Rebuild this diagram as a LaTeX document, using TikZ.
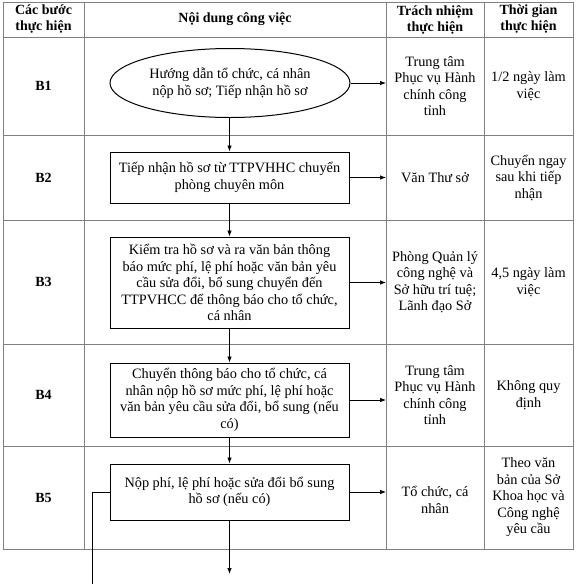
\documentclass[tikz,border=0pt]{standalone}
\usepackage{fontspec}
\setmainfont{Liberation Serif}
\usetikzlibrary{arrows.meta,shapes.geometric}
\tikzstyle{grid}=[
	draw=black!50,
	line width=0.8pt
]
\tikzstyle{head}=[
	align=center,
	font=\fontsize{14}{16}\selectfont\bfseries
]
\tikzstyle{stepname}=[
	font=\fontsize{14}{16}\selectfont\bfseries
]
\tikzstyle{cell}=[
	align=center,
	inner sep=1pt
]
\tikzstyle{start}=[
	ellipse,
	draw,
	line width=1pt,
	minimum width=240pt,
	minimum height=69pt,
	inner sep=0pt,
	align=center
]
\tikzstyle{task}=[
	rectangle,
	draw,
	line width=1pt,
	minimum width=239pt,
	inner sep=1pt,
	align=center
]
\tikzstyle{flow}=[
	-{Latex[length=6pt,width=4.5pt]},
	line width=0.7pt
]

\begin{document}
\begin{tikzpicture}[x=1pt,y=-1pt,font=\fontsize{14.3}{16.5}\selectfont]
\useasboundingbox (0,0) rectangle (576,584);
% table
\draw[grid] (3,2) rectangle (573,549);
\foreach \y in {37,135,220,344,446}
	\draw[grid] (3,\y) -- (573,\y);
\foreach \x in {84,386,484}
	\draw[grid] (\x,2) -- (\x,549);
\coordinate (resp) at (386,0);
% header
\node[head] (hStep) at (43.5,19.5) {Các bước\\thực hiện};
\node[head] (hWork) at (235,19.5) {Nội dung công việc};
\node[head] (hResp) at (435,19.5) {Trách nhiệm\\thực hiện};
\node[head] (hTime) at (528.5,19.5) {Thời gian\\thực hiện};
% steps
\node[stepname] (s1) at (43.5,86) {B1};
\node[stepname] (s2) at (43.5,177.5) {B2};
\node[stepname] (s3) at (43.5,282) {B3};
\node[stepname] (s4) at (43.5,395) {B4};
\node[stepname] (s5) at (43.5,497.5) {B5};
% flow
\node[start] (B1) at (230,83) {Hướng dẫn tổ chức, cá nhân\\nộp hồ sơ; Tiếp nhận hồ sơ};
\node[task, minimum height=51pt] (B2) at (229.5,177.5) {Tiếp nhận hồ sơ từ TTPVHHC chuyển\\phòng chuyên môn};
\node[task, minimum height=91pt] (B3) at (229.5,282.5) {Kiểm tra hồ sơ và ra văn bản thông\\báo mức phí, lệ phí hoặc văn bản yêu\\cầu sửa đổi, bổ sung chuyển đến\\TTPVHCC để thông báo cho tổ chức,\\cá nhân};
\node[task, minimum height=74pt] (B4) at (229.5,400) {Chuyển thông báo cho tổ chức, cá\\nhân nộp hồ sơ mức phí, lệ phí hoặc\\văn bản yêu cầu sửa đổi, bổ sung (nếu\\có)};
\node[task, minimum height=56pt] (B5) at (229.5,492) {Nộp phí, lệ phí hoặc sửa đổi bổ sung\\hồ sơ (nếu có)};
\coordinate (out) at (229.5,574);
\coordinate (back) at (92,584);
\draw[flow] (B1.south -| B2.north) -- (B2.north);
\draw[flow] (B2) -- (B3);
\draw[flow] (B3) -- (B4);
\draw[flow] (B4) -- (B5);
\draw[flow] (B5) -- (out);
\draw[line width=0.7pt] (B5.west) -| (back);
\draw[flow] (B1.east) -- (B1.east -| resp);
\draw[flow] (B2.east) -- (B2.east -| resp);
\draw[flow] (B3.east) -- (B3.east -| resp);
\draw[flow] (B4.east) -- (B4.east -| resp);
\draw[flow] (B5.east) -- (B5.east -| resp);
% who
\node[cell] (r1) at (435,86) {Trung tâm\\Phục vụ Hành\\chính công\\tỉnh};
\node[cell] (r2) at (435,177.5) {Văn Thư sở};
\node[cell] (r3) at (435,282) {Phòng Quản lý\\công nghệ và\\Sở hữu trí tuệ;\\Lãnh đạo Sở};
\node[cell] (r4) at (435,395) {Trung tâm\\Phục vụ Hành\\chính công\\tỉnh};
\node[cell] (r5) at (435,500) {Tổ chức, cá\\nhân};
% when
\node[cell] (t1) at (528.5,86) {1/2 ngày làm\\việc};
\node[cell] (t2) at (528.5,177.5) {Chuyển ngay\\sau khi tiếp\\nhận};
\node[cell] (t3) at (528.5,282) {4,5 ngày làm\\việc};
\node[cell] (t4) at (528.5,395) {Không quy\\định};
\node[cell] (t5) at (528.5,497.5) {Theo văn\\bản của Sở\\Khoa học và\\Công nghệ\\yêu cầu};
\end{tikzpicture}
\end{document}
